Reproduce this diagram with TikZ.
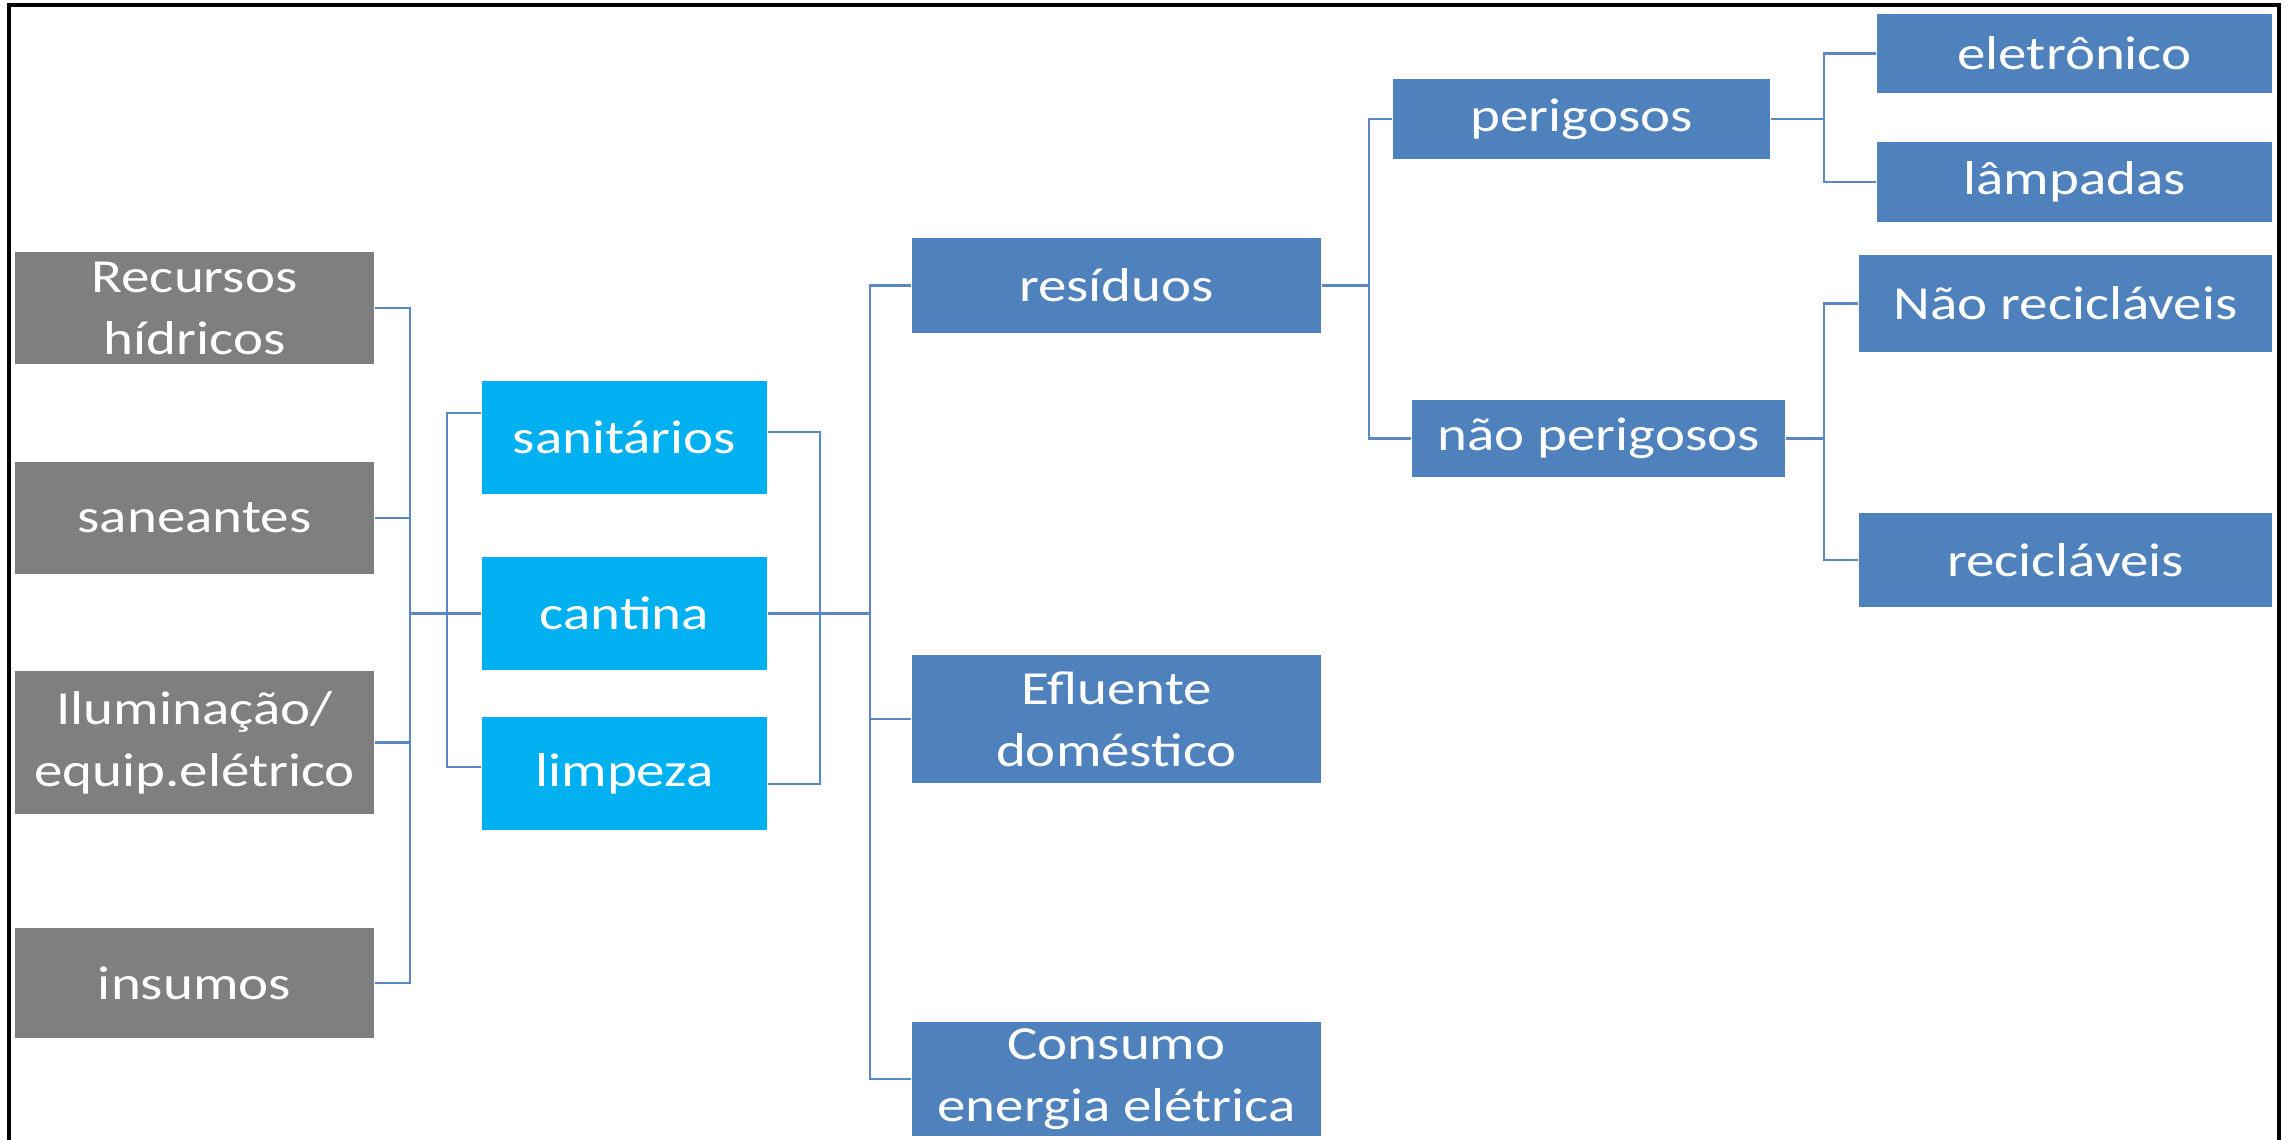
\documentclass[tikz,border=0pt]{standalone}
\usepackage{fontspec}
\setmainfont[FakeStretch=1.2]{Carlito}
\definecolor{boxgrey}{HTML}{7F7F7F}
\definecolor{boxcyan}{HTML}{00B0F0}
\definecolor{boxblue}{HTML}{4F81BD}
\definecolor{linecol}{HTML}{5B87C5}
\tikzset{
 box/.style={rectangle, inner sep=0pt, text=white, align=center, font=\fontsize{13.5}{17.6}\selectfont},
 greybox/.style={box, fill=boxgrey},
 cyanbox/.style={box, fill=boxcyan},
 bluebox/.style={box, fill=boxblue},
 conn/.style={draw=linecol, line width=0.7pt},
 frameline/.style={draw=black, line width=1pt},
}
\begin{document}
\begin{tikzpicture}[x=0.01cm,y=-0.01cm]
\useasboundingbox (0,0) rectangle (2289,1140);
\fill[white] (0,0) rectangle (2289,1140);
\draw[frameline] (9,1140) -- (9,5) -- (2279,5) -- (2279,1140);

\node[greybox, minimum width=3.59cm, minimum height=1.12cm] (rec) at (194.5,308) {Recursos\\hídricos};
\node[greybox, minimum width=3.59cm, minimum height=1.12cm] (sane) at (194.5,518) {saneantes};
\node[greybox, minimum width=3.59cm, minimum height=1.43cm] (ilu) at (194.5,742.5) {Iluminação/\\equip.elétrico};
\node[greybox, minimum width=3.59cm, minimum height=1.10cm] (ins) at (194.5,983) {insumos};
\node[cyanbox, minimum width=2.85cm, minimum height=1.13cm] (sanit) at (624.5,437.5) {sanitários};
\node[cyanbox, minimum width=2.85cm, minimum height=1.13cm] (cant) at (624.5,613.5) {cantina};
\node[cyanbox, minimum width=2.85cm, minimum height=1.13cm] (limp) at (624.5,773.5) {limpeza};
\node[bluebox, minimum width=4.09cm, minimum height=0.95cm] (res) at (1116.5,285.5) {resíduos};
\node[bluebox, minimum width=4.09cm, minimum height=1.28cm] (eflu) at (1116.5,719) {Efluente\\doméstico};
\node[bluebox, minimum width=4.09cm, minimum height=1.14cm] (cons) at (1116.5,1079) {Consumo\\energia elétrica};
\node[bluebox, minimum width=3.77cm, minimum height=0.80cm] (per) at (1581.5,119) {perigosos};
\node[bluebox, minimum width=3.73cm, minimum height=0.77cm] (nper) at (1598.5,438.5) {não perigosos};
\node[bluebox, minimum width=3.95cm, minimum height=0.79cm] (ele) at (2074.5,53.5) {eletrônico};
\node[bluebox, minimum width=3.95cm, minimum height=0.80cm] (lam) at (2074.5,182) {lâmpadas};
\node[bluebox, minimum width=4.13cm, minimum height=0.97cm] (nrec) at (2065.5,303.5) {Não recicláveis};
\node[bluebox, minimum width=4.13cm, minimum height=0.94cm] (recic) at (2065.5,560) {recicláveis};

\coordinate (b1) at (410,0);
\coordinate (b2) at (447,0);
\coordinate (b3) at (820,0);
\coordinate (b4) at (870,0);
\coordinate (b5) at (1369,0);
\coordinate (b6) at (1824,0);

\draw[conn] (rec.east) -| (b1 |- ins.east) -- (ins.east);
\draw[conn] (sane.east) -- (sane.east -| b1);
\draw[conn] (ilu.east) -- (ilu.east -| b1);
\draw[conn] (cant.west) -- (cant.west -| b1);

\coordinate (sl) at ([yshift=0.245cm]sanit.west);
\coordinate (ll) at ([yshift=0.065cm]limp.west);
\draw[conn] (sl) -| (b2 |- ll) -- (ll);

\coordinate (sr) at ([yshift=0.055cm]sanit.east);
\coordinate (lr) at ([yshift=-0.105cm]limp.east);
\draw[conn] (sr) -| (b3 |- lr) -- (lr);
\draw[conn] (cant.east) -- (cant.east -| b4);

\draw[conn] (res.west) -| (b4 |- cons.west) -- (cons.west);
\draw[conn] (eflu.west) -- (eflu.west -| b4);

\draw[conn] (res.east) -- (res.east -| b5);
\draw[conn] (per.west) -| (b5 |- nper.west) -- (nper.west);

\draw[conn] (ele.west) -| (b6 |- lam.west) -- (lam.west);
\draw[conn] (per.east) -- (per.east -| b6);
\draw[conn] (nrec.west) -| (b6 |- recic.west) -- (recic.west);
\draw[conn] (nper.east) -- (nper.east -| b6);
\end{tikzpicture}
\end{document}
